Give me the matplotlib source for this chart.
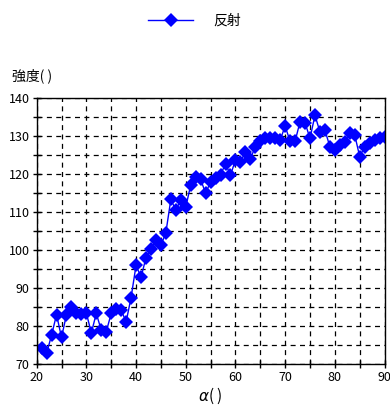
import numpy as np
import matplotlib
matplotlib.use("Agg")
import matplotlib.pyplot as plt
from matplotlib.ticker import MultipleLocator

plt.rcParams["font.family"] = ["Noto Sans CJK JP", "DejaVu Sans"]

# reflection intensity vs angle alpha (deg)
alpha = list(range(21, 91))
intensity = [
    74.1, 72.8, 77.6, 83.0, 77.0, 83.0, 84.9, 83.4, 83.2, 83.4,
    78.2, 83.3, 78.9, 78.5, 83.3, 84.4, 84.2, 81.1, 87.5, 96.0,
    92.8, 98.0, 100.4, 102.6, 101.2, 104.6, 113.3, 110.5, 113.2, 111.3,
    117.1, 119.1, 118.6, 114.9, 118.0, 118.9, 119.8, 122.7, 119.7, 123.7,
    123.2, 125.8, 124.0, 127.2, 128.8, 129.6, 129.6, 129.4, 129.0, 132.6,
    128.6, 128.6, 133.8, 133.5, 129.4, 135.5, 131.1, 131.6, 127.2, 126.3,
    127.6, 128.5, 130.9, 130.3, 124.6, 127.2, 128.1, 129.0, 129.4, 129.8,
]
series_label = "反射"
x_label = r"$\alpha$( )"
y_label = "強度( )"

fig = plt.figure(figsize=(3.9, 4.12), dpi=100)
ax = fig.add_axes([0.094, 0.1165, 0.892, 0.6455])

line, = ax.plot(alpha, intensity, color="#0000FF", linewidth=1,
                marker="D", markersize=7.5, markeredgewidth=0,
                label=series_label)

ax.set_xlim(20, 90)
ax.set_ylim(70, 140)
ax.xaxis.set_major_locator(MultipleLocator(10))
ax.yaxis.set_major_locator(MultipleLocator(10))
ax.xaxis.set_minor_locator(MultipleLocator(5))
ax.yaxis.set_minor_locator(MultipleLocator(5))
ax.tick_params(which="both", direction="inout", length=6, width=1,
               labelsize=9, pad=2, colors="black")
ax.grid(True, which="both", color="black", linestyle=(0, (4, 3.5)), linewidth=0.9)
for s in ax.spines.values():
    s.set_linewidth(1)
    s.set_color("black")

ax.set_xlabel(x_label, fontsize=11, labelpad=1)
fig.text(0.03, 0.815, y_label, fontsize=10, ha="left", va="center")

fig.legend(handles=[line], loc="center", bbox_to_anchor=(0.5, 0.95),
           frameon=False, fontsize=10, handlelength=3.2, handletextpad=1.5)

fig.savefig("out.png", dpi=100)
